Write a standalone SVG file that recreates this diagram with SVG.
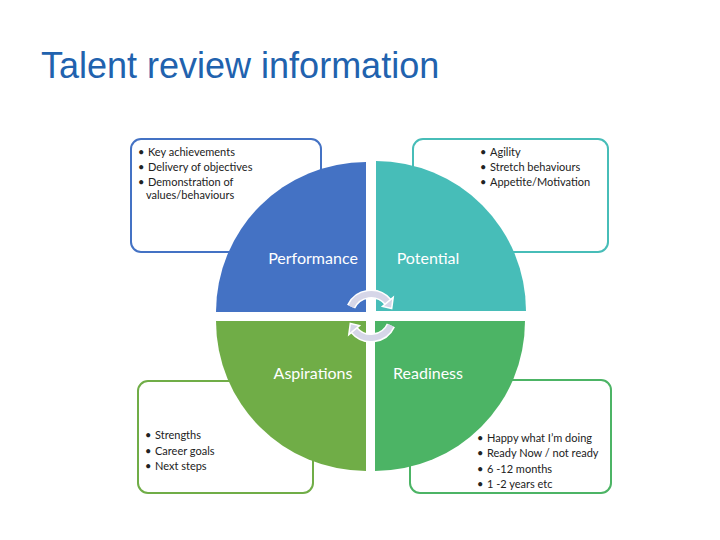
<svg xmlns="http://www.w3.org/2000/svg" width="720" height="540" viewBox="0 0 720 540">
<style>
.box{fill:#fff;stroke-width:2}
.t{font-family:Lato,"Liberation Sans",sans-serif;font-size:11px;fill:#222}
.q{font-family:Lato,"Liberation Sans",sans-serif;font-size:16px;fill:#fff}
.arc{fill:none;stroke:#D6D6E8;stroke-width:6}
.arcw{fill:none;stroke:#fff;stroke-width:9}
.head{fill:#D6D6E8;stroke:#fff;stroke-width:1.5}
</style>
<rect width="720" height="540" fill="#fff"/>
<text x="41" y="78" font-family="Liberation Sans,Arial,sans-serif" font-size="36" fill="#2162AE">Talent review information</text>

<g id="box-performance">
<rect class="box" x="131" y="139" width="190" height="113" rx="10" stroke="#4472C4"/>
<text class="t"><tspan x="138" y="156">•</tspan><tspan x="148" y="156">Key achievements</tspan><tspan x="138" y="171">•</tspan><tspan x="148" y="171">Delivery of objectives</tspan><tspan x="138" y="186">•</tspan><tspan x="148" y="186">Demonstration of</tspan><tspan x="146" y="199">values/behaviours</tspan></text>
</g>
<g id="box-potential">
<rect class="box" x="413" y="139" width="195" height="113" rx="10" stroke="#47BDB8"/>
<text class="t"><tspan x="480" y="156">•</tspan><tspan x="490" y="156">Agility</tspan><tspan x="480" y="171">•</tspan><tspan x="490" y="171">Stretch behaviours</tspan><tspan x="480" y="186">•</tspan><tspan x="490" y="186">Appetite/Motivation</tspan></text>
</g>
<g id="box-aspirations">
<rect class="box" x="138" y="381" width="175" height="112" rx="10" stroke="#70AD47"/>
<text class="t"><tspan x="145" y="439">•</tspan><tspan x="155" y="439">Strengths</tspan><tspan x="145" y="455">•</tspan><tspan x="155" y="455">Career goals</tspan><tspan x="145" y="470">•</tspan><tspan x="155" y="470">Next steps</tspan></text>
</g>
<g id="box-readiness">
<rect class="box" x="410" y="380" width="201" height="113" rx="10" stroke="#4CB465"/>
<text class="t"><tspan x="477" y="442">•</tspan><tspan x="487" y="442">Happy what I’m doing</tspan><tspan x="477" y="457">•</tspan><tspan x="487" y="457">Ready Now / not ready</tspan><tspan x="477" y="473">•</tspan><tspan x="487" y="473">6 -12 months</tspan><tspan x="477" y="488">•</tspan><tspan x="487" y="488">1 -2 years etc</tspan></text>
</g>

<g id="q-performance">
<path d="M366,312 L216,312 A150,150 0 0 1 366,162 Z" fill="#4472C4"/>
<text class="q" x="313" y="264" text-anchor="middle">Performance</text>
</g>
<g id="q-potential">
<path d="M376,311 L376,161 A150,150 0 0 1 526,311 Z" fill="#47BDB8"/>
<text class="q" x="428" y="264" text-anchor="middle">Potential</text>
</g>
<g id="q-aspirations">
<path d="M366,321 L366,471 A150,150 0 0 1 216,321 Z" fill="#70AD47"/>
<text class="q" x="313" y="379" text-anchor="middle">Aspirations</text>
</g>
<g id="q-readiness">
<path d="M375,321 L525,321 A150,150 0 0 1 375,471 Z" fill="#4CB465"/>
<text class="q" x="428" y="379" text-anchor="middle">Readiness</text>
</g>

<g id="connectors">
<path class="arcw" d="M351.1,306.7 A22,22 0 0 1 387.9,301.9"/>
<path class="arc" d="M351.1,306.7 A22,22 0 0 1 387.9,301.9"/>
<polygon class="head" points="382.5,306.4 393.2,297.4 391.7,308.5"/>
<path class="arcw" d="M390.9,325.3 A22,22 0 0 1 354.1,330.1"/>
<path class="arc" d="M390.9,325.3 A22,22 0 0 1 354.1,330.1"/>
<polygon class="head" points="359.5,325.6 348.8,334.6 350.3,323.5"/>
</g>
</svg>
